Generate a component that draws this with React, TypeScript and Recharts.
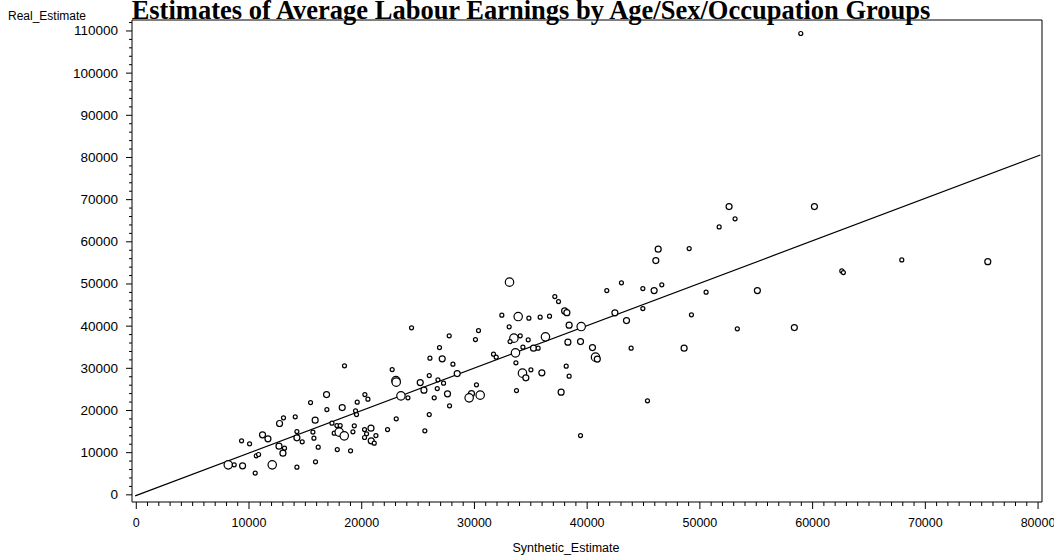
import { ScatterChart, Scatter, XAxis, YAxis, ZAxis, ReferenceArea } from 'recharts';

// Synthetic vs real estimates of average labour earnings, one point per group.
// z is the marker size class (1 small, 2 medium, 3 large).
const synthetic = [
  58950, 60160, 62590, 62730, 67910, 75540, 58380, 52590, 53120, 51710,
  46300, 49050, 46090, 43040, 41740, 44940, 45940, 46620, 50550, 55100,
  42460, 44940, 43490, 49250, 43900, 48600, 53320, 45350,
  33110, 37130, 37460, 38000, 38200, 32430, 33880, 34830, 35830, 36660,
  38400, 39470, 24420, 33080, 30360, 27760, 30090, 33500, 33160, 34060,
  36300, 34770, 38290, 39410, 40470, 40740, 40900, 26900, 35240, 35650,
  34300, 33640, 31690, 31930, 27140, 26050, 28090, 33680, 22700, 23030,
  28470, 25990, 26760, 27260, 25190, 25520, 26700, 26430, 23480, 24100,
  27610, 27790, 30180, 29740, 29530, 30510, 25990, 25600, 33730, 34260,
  34560, 35010, 35980, 38140, 38400, 37690, 39410,
  18470, 16880, 20280, 20550, 15460, 16910, 18270, 19600, 19450, 19540,
  23060, 23060, 13060, 12710, 14100, 15870, 17360, 17800, 18090, 17560,
  18000, 18450, 15670, 14250, 15760, 16140, 17830, 19010, 15900, 14250,
  12060, 10550, 9430, 8160, 8690, 9340, 10050, 11200, 11680, 10640,
  10850, 12660, 13150, 13010, 14250, 14720, 20250, 20430, 20820, 21260,
  20250, 20840, 21110, 19220, 22290, 19340,
];

const real = [
  109400, 68360, 53100, 52700, 55700, 55300, 39670, 68360, 65440, 63540,
  58250, 58400, 55550, 50270, 48440, 48910, 48440, 49790, 48060, 48440,
  43150, 44170, 41330, 42680, 34780, 34780, 39360, 22290,
  50430, 47020, 45830, 43600, 43200, 42610, 42280, 41900, 42130, 42370,
  40240, 39900, 39600, 39830, 38960, 37700, 36820, 37150, 36350, 37700,
  37460, 36750, 36210, 36350, 34930, 32650, 32200, 34930, 34780, 34780,
  35020, 33670, 33360, 32650, 32250, 32410, 30990, 31300, 29710, 27100,
  28760, 28290, 27270, 26480, 26630, 24820, 25200, 23000, 23470, 23000,
  23950, 21100, 26080, 24020, 23000, 23640, 19040, 15170, 24730, 28850,
  27740, 29640, 28930, 30510, 28140, 24350, 14060,
  30590, 23780, 23780, 22690, 21880, 20220, 20700, 21980, 19920, 19040,
  26720, 18020, 18260, 16910, 18490, 17710, 17000, 16430, 16430, 14630,
  14870, 13990, 14870, 15010, 13440, 11310, 10740, 10430, 7820, 6570,
  7110, 5150, 6880, 7110, 7110, 12800, 12090, 14230, 13280, 9250,
  9560, 11550, 11070, 9890, 13510, 12570, 15480, 14460, 15810, 14060,
  13590, 12800, 12260, 14940, 15480, 16360,
];

const sizeClass = [
  1, 2, 1, 1, 1, 2, 2, 2, 1, 1,
  2, 1, 2, 1, 1, 1, 2, 1, 1, 2,
  2, 1, 2, 1, 1, 2, 1, 1,
  3, 1, 1, 2, 2, 1, 3, 1, 1, 1,
  2, 3, 1, 1, 1, 1, 1, 3, 1, 1,
  3, 1, 2, 2, 2, 3, 2, 1, 2, 1,
  1, 3, 1, 1, 2, 1, 1, 1, 1, 3,
  2, 1, 1, 1, 2, 2, 1, 1, 3, 1,
  2, 1, 1, 2, 3, 3, 1, 1, 1, 3,
  2, 1, 2, 1, 1, 2, 1,
  1, 2, 1, 1, 1, 1, 2, 1, 1, 1,
  3, 1, 1, 2, 1, 2, 1, 1, 1, 1,
  3, 3, 1, 1, 1, 1, 1, 1, 1, 1,
  3, 1, 2, 3, 1, 1, 1, 2, 2, 1,
  1, 2, 1, 2, 2, 1, 1, 1, 2, 1,
  1, 2, 1, 1, 1, 1,
];

// endpoints of the fitted line
const fitX = [-100, 80200];
const fitY = [-250, 80600];

const xMajorTicks = [0, 10000, 20000, 30000, 40000, 50000, 60000, 70000, 80000];
const yMajorTicks = [0, 10000, 20000, 30000, 40000, 50000, 60000, 70000, 80000, 90000, 100000, 110000];

const xDomain = [-380, 80350];
const yDomain = [-1700, 112600];

const points = synthetic.map((x, i) => ({ x, y: real[i], z: sizeClass[i] }));
const fitLine = fitX.map((x, i) => ({ x, y: fitY[i], z: 1 }));

// minor ticks sit between the labelled ones
const xTicks: number[] = [];
for (let v = 0; v <= 80000; v += 1000) xTicks.push(v);
const yTicks: number[] = [];
for (let v = 0; v <= 112000; v += 2000) yTicks.push(v);

const radius: Record<number, number> = { 1: 2, 2: 3, 3: 4.2 };

const tickFont = "'Liberation Sans', Arial, sans-serif";

const XTick = (props: any) => {
  const { x, y, payload } = props;
  const major = xMajorTicks.includes(payload.value);
  return (
    <g>
      <line x1={x} x2={x} y1={y} y2={y + (major ? 7 : 4)} stroke="#000" strokeWidth={1} />
      {major && (
        <text x={x} y={y + 25} textAnchor="middle" fontSize={12.5} fontFamily={tickFont} fill="#000">
          {payload.value}
        </text>
      )}
    </g>
  );
};

const YTick = (props: any) => {
  const { x, y, payload } = props;
  const major = yMajorTicks.includes(payload.value);
  return (
    <g>
      <line x1={x} x2={x - (major ? 6 : 3)} y1={y} y2={y} stroke="#000" strokeWidth={1} />
      {major && (
        <text x={x - 14} y={y + 4.5} textAnchor="end" fontSize={13.5} fontFamily={tickFont} fill="#000">
          {payload.value}
        </text>
      )}
    </g>
  );
};

const Marker = (props: any) => {
  const { cx, cy, payload } = props;
  if (cx == null || cy == null) return <g />;
  return <circle cx={cx} cy={cy} r={radius[payload.z] ?? 2} fill="#fff" stroke="#000" strokeWidth={1.2} />;
};

const App = () => {
  return (
    <div style={{ position: 'fixed', left: 0, top: 0, width: 1054, height: 560, background: '#fff' }}>
      <ScatterChart width={1054} height={560} margin={{ top: 20, right: 12, bottom: 0, left: 0 }}>
        <text
          x={531}
          y={19}
          textAnchor="middle"
          fontSize={26.5}
          fontWeight="bold"
          fontFamily="'Liberation Serif', 'Times New Roman', serif"
          fill="#000"
        >
          Estimates of Average Labour Earnings by Age/Sex/Occupation Groups
        </text>
        <text x={8} y={20} fontSize={12} fontFamily={tickFont} fill="#000">
          Real_Estimate
        </text>
        <text x={566} y={552} textAnchor="middle" fontSize={12.5} fontFamily={tickFont} fill="#000">
          Synthetic_Estimate
        </text>
        <XAxis
          type="number"
          dataKey="x"
          domain={xDomain}
          ticks={xTicks}
          interval={0}
          height={58}
          axisLine={false}
          tickLine={false}
          tickSize={0}
          tickMargin={0}
          tick={<XTick />}
        />
        <YAxis
          type="number"
          dataKey="y"
          domain={yDomain}
          ticks={yTicks}
          interval={0}
          width={132}
          axisLine={false}
          tickLine={false}
          tickSize={0}
          tickMargin={0}
          tick={<YTick />}
        />
        <ZAxis type="number" dataKey="z" range={[20, 20]} />
        <ReferenceArea
          x1={xDomain[0]}
          x2={xDomain[1]}
          y1={yDomain[0]}
          y2={yDomain[1]}
          fill="none"
          stroke="#000"
          strokeWidth={1}
        />
        <Scatter
          data={fitLine}
          line={{ stroke: '#000', strokeWidth: 1.2 }}
          shape={() => <g />}
          isAnimationActive={false}
        />
        <Scatter data={points} shape={<Marker />} isAnimationActive={false} />
      </ScatterChart>
    </div>
  );
};

export default App;
